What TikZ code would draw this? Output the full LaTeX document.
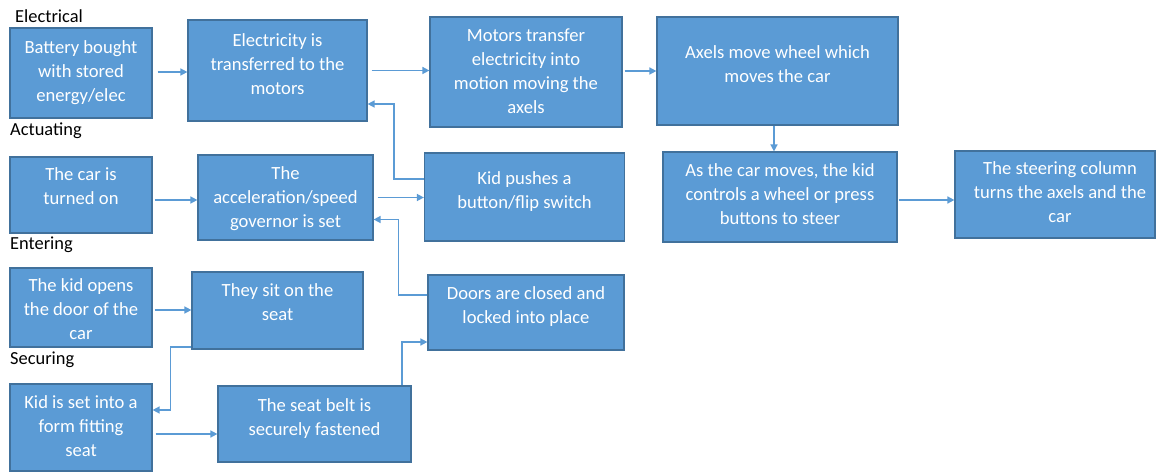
\documentclass[tikz,border=0pt]{standalone}
\usepackage{fontspec}
\setmainfont{Carlito}
\usetikzlibrary{arrows.meta}
\definecolor{boxfill}{HTML}{5B9BD5}
\definecolor{boxline}{HTML}{41719C}
\begin{document}
\begin{tikzpicture}[x=1pt,y=-1pt,
  box/.style={draw=boxline,fill=boxfill,line width=1.2pt,inner sep=0pt},
  boxtext/.style={anchor=north,align=center,text=white,inner sep=0pt,font=\fontsize{18.6}{24}\selectfont},
  stage/.style={anchor=base west,inner sep=0pt,font=\fontsize{18.4}{24}\selectfont},
  link/.style={draw=boxfill,line width=1.5pt,-{Triangle[length=7pt,width=7pt]}}]
\useasboundingbox[fill=white](0,0) rectangle (1159,473);
\node[stage] (lelec) at (15,23) {Electrical};
\node[stage] (lact) at (10,136) {Actuating};
\node[stage] (lent) at (10,250) {Entering};
\node[stage] (lsec) at (10,364) {Securing};
\node[box,minimum width=142pt,minimum height=90pt] (bat) at (81,73) {};
\node[box,minimum width=179pt,minimum height=101pt] (elec) at (277.5,70.5) {};
\node[box,minimum width=192pt,minimum height=110pt] (motor) at (526,72) {};
\node[box,minimum width=241pt,minimum height=108pt] (axel) at (777.5,71) {};
\node[box,minimum width=142pt,minimum height=76pt] (caron) at (81,195) {};
\node[box,minimum width=175pt,minimum height=85pt] (gov) at (285.5,197.5) {};
\node[box,minimum width=200pt,minimum height=88pt] (push) at (524.5,197) {};
\node[box,minimum width=234pt,minimum height=90pt] (steer) at (780,197) {};
\node[box,minimum width=200pt,minimum height=87pt] (column) at (1055,194.5) {};
\node[box,minimum width=142pt,minimum height=79pt] (opens) at (81,307.5) {};
\node[box,minimum width=171pt,minimum height=77pt] (sit) at (277.5,310.5) {};
\node[box,minimum width=196pt,minimum height=75pt] (doors) at (526,312.5) {};
\node[box,minimum width=142pt,minimum height=87pt] (kidset) at (81,427.5) {};
\node[box,minimum width=193pt,minimum height=76pt] (belt) at (314.5,424) {};
\node[boxtext] (bat-t) at ([yshift=-12.5pt]bat.north) {Battery bought\\with stored\\energy/elec};
\node[boxtext] (elec-t) at ([yshift=-13.5pt]elec.north) {Electricity is\\transferred to the\\motors};
\node[boxtext] (motor-t) at ([yshift=-12pt]motor.north) {Motors transfer\\electricity into\\motion moving the\\axels};
\node[boxtext] (axel-t) at ([yshift=-29pt]axel.north) {Axels move wheel which\\moves the car};
\node[boxtext] (caron-t) at ([yshift=-10.5pt]caron.north) {The car is\\turned on};
\node[boxtext] (gov-t) at ([yshift=-12pt]gov.north) {The\\acceleration/speed\\governor is set};
\node[boxtext] (push-t) at ([yshift=-19pt]push.north) {Kid pushes a\\button/flip switch};
\node[boxtext] (steer-t) at ([yshift=-12pt]steer.north) {As the car moves, the kid\\controls a wheel or press\\buttons to steer};
\node[boxtext] (column-t) at ([xshift=5pt,yshift=-11pt]column.north) {The steering column\\turns the axels and the\\car};
\node[boxtext] (opens-t) at ([yshift=-11pt]opens.north) {The kid opens\\the door of the\\car};
\node[boxtext] (sit-t) at ([yshift=-12pt]sit.north) {They sit on the\\seat};
\node[boxtext] (doors-t) at ([yshift=-12pt]doors.north) {Doors are closed and\\locked into place};
\node[boxtext] (kidset-t) at ([yshift=-12pt]kidset.north) {Kid is set into a\\form fitting\\seat};
\node[boxtext] (belt-t) at ([yshift=-13pt]belt.north) {The seat belt is\\securely fastened};
\draw[link,shorten <=5pt] ([yshift=1pt]bat.east) -- ([yshift=1pt]bat.east -| elec.west);
\draw[link,shorten <=4pt] (elec.east) -- (elec.east -| motor.west);
\draw[link,shorten <=2pt] ([yshift=1pt]motor.east) -- ([yshift=1pt]motor.east -| axel.west);
\draw[link] ([xshift=-3.5pt]axel.south) -- ([xshift=-3.5pt]axel.south |- steer.north);
\draw[link,shorten <=2pt] ([yshift=-5pt]caron.east) -- ([yshift=-5pt]caron.east -| gov.west);
\draw[link,shorten <=4pt] (gov.east) -- (gov.east -| push.west);
\draw[link,shorten <=1pt] ([yshift=-3pt]steer.east) -- ([yshift=-3pt]steer.east -| column.west);
\draw[link,shorten <=2pt] ([yshift=-2.5pt]opens.east) -- ([yshift=-2.5pt]opens.east -| sit.west);
\draw[link,shorten <=3pt] ([yshift=-6.5pt]kidset.east) -- ([yshift=-6.5pt]kidset.east -| belt.west);
\draw[link] ([yshift=18pt]push.west) -- ++(-30pt,0) |- ([yshift=-33.5pt]elec.east);
\draw[link] ([yshift=17.5pt]doors.west) -- ++(-29pt,0) |- ([yshift=-22pt]gov.east);
\draw[link] ([xshift=87.5pt]belt.north) |- ([yshift=-29.5pt]doors.west);
\draw[link] ([yshift=-36.5pt]sit.west) -- ++(-21pt,0) |- ([yshift=17.5pt]kidset.east);
\end{tikzpicture}
\end{document}
